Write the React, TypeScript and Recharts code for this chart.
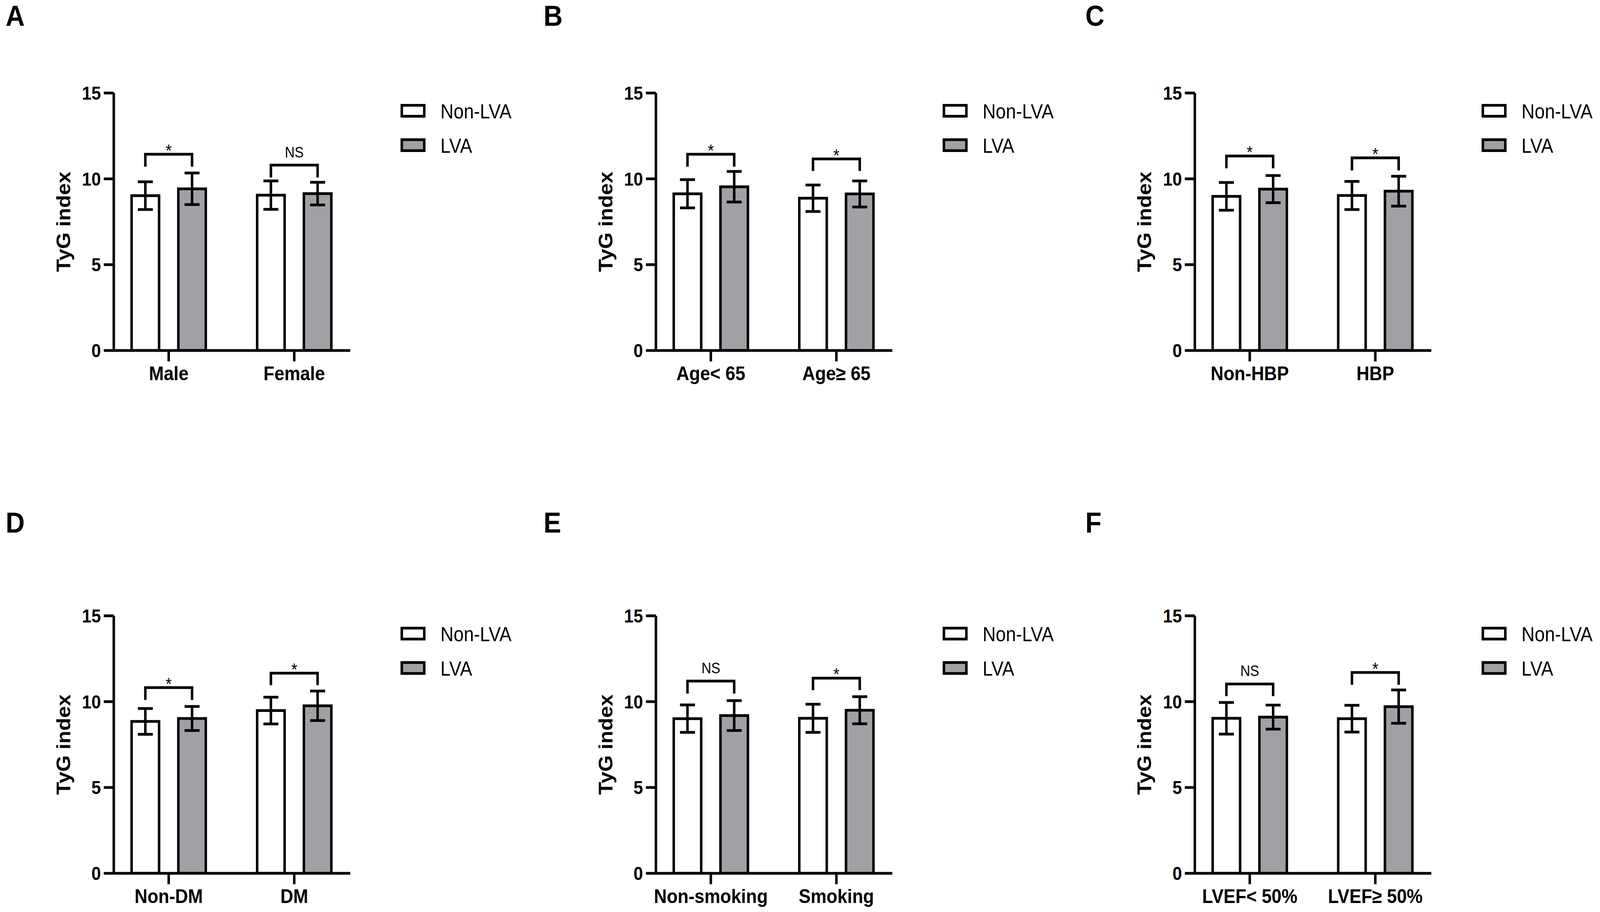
import React from 'react'
import {
  ComposedChart, Bar, ErrorBar, XAxis, YAxis, Line, Scatter, Legend,
} from 'recharts'

// TyG index by subgroup, Non-LVA vs LVA (mean ± SD), six panels A–F

const FONT = '"Liberation Sans", Arial, Helvetica, sans-serif'
const INK = '#000000'
const GREY = '#a1a1a5'

const SERIES = ['Non-LVA', 'LVA']
const Y_TICKS = [0, 5, 10, 15]

// A — sex
const sexGroups = ['Male', 'Female']
const sexNonLva = [9.02, 9.05]
const sexNonLvaSd = [0.81, 0.83]
const sexLva = [9.42, 9.14]
const sexLvaSd = [0.92, 0.66]
const sexBracketTop = [11.43, 10.8]
const sexBracketLeg = [10.71, 10.08]
const sexSig = ['*', 'NS']

// B — age
const ageGroups = ['Age< 65', 'Age≥ 65']
const ageNonLva = [9.13, 8.87]
const ageNonLvaSd = [0.82, 0.77]
const ageLva = [9.54, 9.12]
const ageLvaSd = [0.89, 0.76]
const ageBracketTop = [11.43, 11.16]
const ageBracketLeg = [10.71, 10.46]
const ageSig = ['*', '*']

// C — hypertension
const hbpGroups = ['Non-HBP', 'HBP']
const hbpNonLva = [8.98, 9.03]
const hbpNonLvaSd = [0.81, 0.82]
const hbpLva = [9.4, 9.28]
const hbpLvaSd = [0.79, 0.87]
const hbpBracketTop = [11.33, 11.22]
const hbpBracketLeg = [10.61, 10.49]
const hbpSig = ['*', '*']

// D — diabetes
const dmGroups = ['Non-DM', 'DM']
const dmNonLva = [8.85, 9.48]
const dmNonLvaSd = [0.75, 0.78]
const dmLva = [9.02, 9.76]
const dmLvaSd = [0.7, 0.86]
const dmBracketTop = [10.82, 11.66]
const dmBracketLeg = [10.1, 10.96]
const dmSig = ['*', '*']

// E — smoking
const smokeGroups = ['Non-smoking', 'Smoking']
const smokeNonLva = [9.01, 9.03]
const smokeNonLvaSd = [0.8, 0.82]
const smokeLva = [9.19, 9.5]
const smokeLvaSd = [0.87, 0.79]
const smokeBracketTop = [11.2, 11.37]
const smokeBracketLeg = [10.47, 10.67]
const smokeSig = ['NS', '*']

// F — LVEF
const lvefGroups = ['LVEF< 50%', 'LVEF≥ 50%']
const lvefNonLva = [9.03, 9.01]
const lvefNonLvaSd = [0.92, 0.78]
const lvefLva = [9.1, 9.71]
const lvefLvaSd = [0.7, 0.97]
const lvefBracketTop = [11.03, 11.7]
const lvefBracketLeg = [10.32, 10.98]
const lvefSig = ['NS', '*']

// layout
const PAGE_W = 4486
const PAGE_H = 2334
const CHART_W = 1455
const CHART_H = 996
const AXIS_W = 319
const PLOT_TOP = 238
const PLOT_W = 663
const PAD_L = -22            // band of 352px, first group centre 154px from the y axis
const PAD_R = -19
const BAND = (PLOT_W - PAD_L - PAD_R) / 2
const X_MIN = -(PAD_L + BAND / 2) / BAND
const X_MAX = 1 + (PAD_R + BAND / 2) / BAND
const BAR_SIZE = 77
const BAR_GAP = 54
const LEG = (BAR_SIZE + BAR_GAP) / 2 / BAND

const PANELS = [
  { letter: 'A', left: 0, top: 0, lx: 16, ly: 66, groups: sexGroups, nonLva: sexNonLva, nonLvaSd: sexNonLvaSd, lva: sexLva, lvaSd: sexLvaSd, bTop: sexBracketTop, bLeg: sexBracketLeg, sig: sexSig },
  { letter: 'B', left: 1520, top: 0, lx: 1524, ly: 66, groups: ageGroups, nonLva: ageNonLva, nonLvaSd: ageNonLvaSd, lva: ageLva, lvaSd: ageLvaSd, bTop: ageBracketTop, bLeg: ageBracketLeg, sig: ageSig },
  { letter: 'C', left: 3031, top: 0, lx: 3043, ly: 66, groups: hbpGroups, nonLva: hbpNonLva, nonLvaSd: hbpNonLvaSd, lva: hbpLva, lvaSd: hbpLvaSd, bTop: hbpBracketTop, bLeg: hbpBracketLeg, sig: hbpSig },
  { letter: 'D', left: 0, top: 1338, lx: 16, ly: 1363, groups: dmGroups, nonLva: dmNonLva, nonLvaSd: dmNonLvaSd, lva: dmLva, lvaSd: dmLvaSd, bTop: dmBracketTop, bLeg: dmBracketLeg, sig: dmSig },
  { letter: 'E', left: 1520, top: 1338, lx: 1524, ly: 1363, groups: smokeGroups, nonLva: smokeNonLva, nonLvaSd: smokeNonLvaSd, lva: smokeLva, lvaSd: smokeLvaSd, bTop: smokeBracketTop, bLeg: smokeBracketLeg, sig: smokeSig },
  { letter: 'F', left: 3031, top: 1338, lx: 3043, ly: 1363, groups: lvefGroups, nonLva: lvefNonLva, nonLvaSd: lvefNonLvaSd, lva: lvefLva, lvaSd: lvefLvaSd, bTop: lvefBracketTop, bLeg: lvefBracketLeg, sig: lvefSig },
]

function SigMark(p: any) {
  const star = p.payload?.text === '*'
  return (
    <text x={p.cx} y={p.cy + (star ? 6 : -20)} textAnchor="middle" fontFamily={FONT}
      fontSize={star ? 44 : 38} fill={INK}>
      {p.payload?.text}
    </text>
  )
}

function YTitle() {
  return (
    <text x={178} y={567.5} transform="rotate(-90, 178, 567.5)"
      textAnchor="middle" dominantBaseline="central"
      fontFamily={FONT} fontWeight={700} fontSize={54} fill={INK}>
      TyG index
    </text>
  )
}

function LegendBox() {
  return (
    <svg width={320} height={190}>
      {SERIES.map((s, i) => (
        <g key={s} transform={`translate(0, ${i * 88})`}>
          <rect x={8.5} y={14.5} width={63} height={28}
            fill={i === 0 ? '#ffffff' : GREY} stroke={INK} strokeWidth={7} />
          <text x={117} y={48} fontSize={51} fontFamily={FONT} fill={INK}>{s}</text>
        </g>
      ))}
    </svg>
  )
}

function Panel(props: any) {
  const { groups, nonLva, nonLvaSd, lva, lvaSd, bTop, bLeg, sig } = props
  const data = groups.map((g: string, i: number) => ({
    group: g, nonLva: nonLva[i], nonLvaSd: nonLvaSd[i], lva: lva[i], lvaSd: lvaSd[i],
  }))
  // significance brackets sit on a hidden numeric axis lined up with the group centres
  const brackets = groups.map((_: string, i: number) => [
    { idx: i - LEG, y: bLeg[i] }, { idx: i - LEG, y: bTop[i] },
    { idx: i + LEG, y: bTop[i] }, { idx: i + LEG, y: bLeg[i] },
  ])
  const marks = groups.map((_: string, i: number) => ({ idx: i, y: bTop[i], text: sig[i] }))
  const axisStroke = { stroke: INK, strokeWidth: 7 }

  return (
    <div style={{ position: 'absolute', left: props.left, top: props.top, width: CHART_W, height: CHART_H }}>
      <ComposedChart width={CHART_W} height={CHART_H} data={data}
        margin={{ top: PLOT_TOP, right: CHART_W - AXIS_W - PLOT_W, bottom: 0, left: 0 }} barGap={BAR_GAP}>
        <XAxis xAxisId="cat" dataKey="group" type="category" padding={{ left: PAD_L, right: PAD_R }}
          height={99} tickSize={28} tickMargin={13} interval={0}
          axisLine={axisStroke} tickLine={axisStroke}
          tick={{ fill: INK, fontSize: 50, fontWeight: 700, fontFamily: FONT }} />
        <XAxis xAxisId="num" dataKey="idx" type="number" hide domain={[X_MIN, X_MAX]} allowDataOverflow />
        <YAxis type="number" domain={[0, 15]} allowDataOverflow ticks={Y_TICKS} interval={0}
          width={AXIS_W} tickSize={28} tickMargin={8}
          axisLine={axisStroke} tickLine={axisStroke}
          tick={{ fill: INK, fontSize: 48, fontWeight: 700, fontFamily: FONT }}
          label={{ content: () => <YTitle /> }} />
        <Legend layout="vertical" align="center" verticalAlign="middle"
          wrapperStyle={{ left: 1118, top: 255, width: 320, height: 190 }}
          content={() => <LegendBox />} />
        <Bar xAxisId="cat" dataKey="nonLva" name="Non-LVA" fill="#ffffff" stroke={INK} strokeWidth={7}
          barSize={BAR_SIZE} isAnimationActive={false}>
          <ErrorBar dataKey="nonLvaSd" width={21} stroke={INK} strokeWidth={7} direction="y" isAnimationActive={false} />
        </Bar>
        <Bar xAxisId="cat" dataKey="lva" name="LVA" fill={GREY} stroke={INK} strokeWidth={7}
          barSize={BAR_SIZE} isAnimationActive={false}>
          <ErrorBar dataKey="lvaSd" width={21} stroke={INK} strokeWidth={7} direction="y" isAnimationActive={false} />
        </Bar>
        {brackets.map((pts: any[], i: number) => (
          <Line key={`br-${i}`} xAxisId="num" data={pts} dataKey="y" type="linear"
            stroke={INK} strokeWidth={7} strokeLinejoin="miter" strokeLinecap="butt"
            dot={false} activeDot={false} legendType="none" isAnimationActive={false} />
        ))}
        <Scatter xAxisId="num" data={marks} dataKey="y" shape={SigMark} legendType="none" isAnimationActive={false} />
      </ComposedChart>
    </div>
  )
}

export default function App() {
  // the page viewport can come out narrower than the figure; squeeze to fit rather than crop
  const vw = typeof window !== 'undefined' ? window.innerWidth : PAGE_W
  const vh = typeof window !== 'undefined' ? window.innerHeight : PAGE_H
  const sx = vw > 0 ? Math.min(1, vw / PAGE_W) : 1
  const sy = vh > 0 ? Math.min(1, vh / PAGE_H) : 1

  return (
    <div style={{
      position: 'fixed', left: 0, top: 0, width: PAGE_W, height: PAGE_H,
      overflow: 'hidden', background: '#ffffff', fontFamily: FONT,
      transform: `scale(${sx}, ${sy})`, transformOrigin: '0 0',
    }}>
      {PANELS.map((p) => <Panel key={p.letter} {...p} />)}
      <svg style={{ position: 'absolute', left: 0, top: 0 }} width={PAGE_W} height={PAGE_H} pointerEvents="none">
        {PANELS.map((p) => (
          <text key={p.letter} x={p.lx} y={p.ly} fontFamily={FONT} fontWeight={700} fontSize={74} fill={INK}>
            {p.letter}
          </text>
        ))}
      </svg>
    </div>
  )
}
